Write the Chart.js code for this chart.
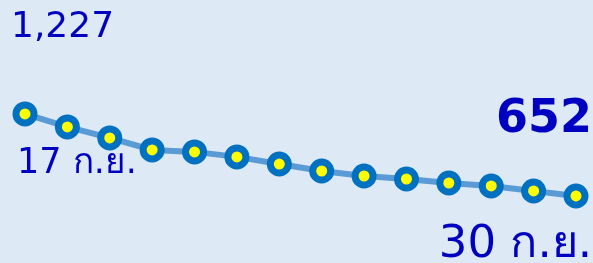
<!DOCTYPE html>
<html>
<head>
<meta charset="utf-8">
<script src="https://cdn.jsdelivr.net/npm/chart.js@4/dist/chart.umd.min.js"></script>
<style>
html,body{margin:0;padding:0;background:#dde9f5;}
#wrap{width:593px;height:263px;position:relative;}
</style>
</head>
<body>
<div id="wrap"><canvas id="c" width="593" height="263"></canvas></div>
<script>
const categories = ["17 ก.ย.","18 ก.ย.","19 ก.ย.","20 ก.ย.","21 ก.ย.","22 ก.ย.","23 ก.ย.","24 ก.ย.","25 ก.ย.","26 ก.ย.","27 ก.ย.","28 ก.ย.","29 ก.ย.","30 ก.ย."];
const values = [1227,1136,1059,975,961,926,876,827,792,771,743,722,687,652];
const firstLabel = categories[0];
const lastLabel = categories[categories.length-1];

const textColor = "#0000c0";
const fmt = v => v.toLocaleString("en-US");

const annot = {
  id: "annot",
  afterDraw(chart) {
    const ctx = chart.ctx;
    ctx.save();
    ctx.fillStyle = textColor;
    ctx.textBaseline = "alphabetic";
    ctx.textAlign = "left";
    ctx.font = "36px 'DejaVu Sans', sans-serif";
    ctx.fillText(fmt(values[0]), 11, 37);
    ctx.font = "35px 'DejaVu Sans', sans-serif";
    ctx.fillText(firstLabel, 17, 173);
    ctx.textAlign = "right";
    ctx.font = "bold 46px 'DejaVu Sans', sans-serif";
    ctx.fillText(fmt(values[values.length-1]), 592, 132);
    ctx.font = "45px 'DejaVu Sans', sans-serif";
    ctx.fillText(lastLabel, 592, 257);
    ctx.restore();
  }
};

new Chart(document.getElementById("c"), {
  type: "line",
  data: {
    labels: categories,
    datasets: [{
      data: values,
      borderColor: "#5b9bd5",
      borderWidth: 6,
      pointRadius: 9,
      pointBorderWidth: 7,
      pointBorderColor: "#0070c0",
      pointBackgroundColor: "#ffff00",
      pointHoverRadius: 9,
      tension: 0,
      clip: false
    }]
  },
  options: {
    responsive: false,
    animation: false,
    events: [],
    layout: { autoPadding: false, padding: { left: 25, right: 17, top: 0, bottom: 0 } },
    plugins: { legend: { display: false }, tooltip: { enabled: false } },
    scales: {
      x: { display: false, offset: false },
      y: { display: false, min: 182, max: 2026 }
    }
  },
  plugins: [annot]
});
</script>
</body>
</html>
